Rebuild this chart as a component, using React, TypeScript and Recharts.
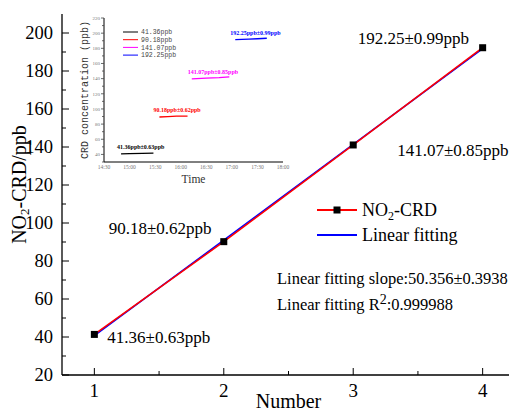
import React from 'react';
import { LineChart, Line, XAxis, YAxis, Legend, LabelList } from 'recharts';

// ---- main chart data ----
const numbers = [1, 2, 3, 4];
const measured = [41.36, 90.18, 141.07, 192.25];
const fitted = [40.68, 91.04, 141.39, 191.75];
const pointLabels = ['41.36±0.63ppb', '90.18±0.62ppb', '141.07±0.85ppb', '192.25±0.99ppb'];
const xTicksMain = [1, 1.5, 2, 2.5, 3, 3.5, 4];
const yTicksMain = [20, 30, 40, 50, 60, 70, 80, 90, 100, 110, 120, 130, 140, 150, 160, 170, 180, 190, 200];
const slopeText = 'Linear fitting slope:50.356±0.3938';
const r2Value = ':0.999988';

// ---- inset data ----
const insetSeriesNames = ['41.36ppb', '90.18ppb', '141.07ppb', '192.25ppb'];
const insetAnnotations = ['41.36ppb±0.63ppb', '90.18ppb±0.62ppb', '141.07ppb±0.85ppb', '192.25ppb±0.99ppb'];
const insetTimes1 = [890, 900, 915, 928];
const insetValues1 = [40.6, 41.0, 41.5, 41.7];
const insetTimes2 = [935, 945, 955, 968];
const insetValues2 = [89.4, 90.0, 90.4, 90.6];
const insetTimes3 = [973, 990, 1005, 1017];
const insetValues3 = [139.6, 140.6, 141.2, 142.3];
const insetTimes4 = [1024, 1040, 1050, 1061];
const insetValues4 = [191.5, 192.2, 192.6, 193.3];
const insetXTicks = [870, 900, 930, 960, 990, 1020, 1050, 1080];
const insetYTicks = [30, 40, 50, 60, 70, 80, 90, 100, 110, 120, 130, 140, 150, 160, 170, 180, 190, 200, 210, 220];

// ---- styles (not data) ----
const SERIF = '"Liberation Serif", "Times New Roman", serif';
const MONO = '"Liberation Mono", "DejaVu Sans Mono", monospace';
const insetColors = ['#000000', '#ff0000', '#ff00ff', '#0000ff'];
const labelOffsets = [
  { dx: 13, dy: 9 },
  { dx: -115, dy: -8 },
  { dx: 44, dy: 11 },
  { dx: -125, dy: -4 },
];
const insetAnnoOffsets = [
  { dx: -4, dy: -5 },
  { dx: -6, dy: -5 },
  { dx: -4, dy: -5 },
  { dx: -5, dy: -5 },
];

const mainData = numbers.map((n, i) => ({ x: n, y: measured[i], fit: fitted[i], label: pointLabels[i] }));
const insetData = [
  insetTimes1.map((t, i) => ({ t, v: insetValues1[i] })),
  insetTimes2.map((t, i) => ({ t, v: insetValues2[i] })),
  insetTimes3.map((t, i) => ({ t, v: insetValues3[i] })),
  insetTimes4.map((t, i) => ({ t, v: insetValues4[i] })),
];

const fmtTime = (m: number) => {
  const h = Math.floor(m / 60);
  const mm = m % 60;
  return `${h}:${mm < 10 ? '0' + mm : mm}`;
};

const MainYTick = (props: any) => {
  const { x, y, payload } = props;
  const v = payload.value;
  const major = v % 20 === 0;
  const ax = x + 9;
  return (
    <g>
      <line x1={ax} x2={ax + (major ? 7 : 4)} y1={y} y2={y} stroke="#000" strokeWidth={1} />
      {major && (
        <text x={x} y={y} dy="0.35em" textAnchor="end" fontFamily={SERIF} fontSize={18.5} fill="#000">
          {v}
        </text>
      )}
    </g>
  );
};

const MainXTick = (props: any) => {
  const { x, y, payload } = props;
  const v = payload.value;
  const major = Number.isInteger(v);
  const ay = y - 8;
  return (
    <g>
      <line x1={x} x2={x} y1={ay} y2={ay - (major ? 7 : 4)} stroke="#000" strokeWidth={1} />
      {major && (
        <text x={x} y={y} dy="0.75em" textAnchor="middle" fontFamily={SERIF} fontSize={19} fill="#000">
          {v}
        </text>
      )}
    </g>
  );
};

const InsetYTick = (props: any) => {
  const { x, y, payload } = props;
  const v = payload.value;
  const major = v % 20 === 0 && v >= 40;
  const ax = x + 3;
  return (
    <g>
      <line x1={ax} x2={ax - (major ? 3 : 2)} y1={y} y2={y} stroke="#444" strokeWidth={0.8} />
      {major && (
        <text x={x - 1} y={y} dy="0.35em" textAnchor="end" fontFamily={SERIF} fontSize={5} fill="#777">
          {v}
        </text>
      )}
    </g>
  );
};

const InsetXTick = (props: any) => {
  const { x, y, payload } = props;
  return (
    <text x={x} y={y} dy="0.75em" textAnchor="middle" fontFamily={SERIF} fontSize={5.5} fill="#777">
      {fmtTime(payload.value)}
    </text>
  );
};

const SquareDot = (props: any) => {
  const { cx, cy, index } = props;
  return <rect key={`sq-${index}`} x={cx - 3.5} y={cy - 3.5} width={7} height={7} fill="#000" />;
};

const MainLegend = () => (
  <svg width={170} height={50} style={{ overflow: 'visible' }}>
    <line x1={7} x2={47} y1={13} y2={13} stroke="#ff0000" strokeWidth={2} />
    <rect x={23.5} y={9.5} width={7} height={7} fill="#000" />
    <text x={52} y={19} fontFamily={SERIF} fontSize={18} fill="#000">
      NO<tspan fontSize={12} dy={4}>2</tspan>
      <tspan dy={-4}>-CRD</tspan>
    </text>
    <line x1={7} x2={47} y1={38} y2={38} stroke="#0000ff" strokeWidth={2} />
    <text x={52} y={44} fontFamily={SERIF} fontSize={18} fill="#000">Linear fitting</text>
  </svg>
);

const InsetLegend = () => (
  <svg width={70} height={34} style={{ overflow: 'visible' }}>
    {insetSeriesNames.map((n, i) => (
      <g key={n}>
        <line x1={1} x2={16} y1={3 + i * 7.7} y2={3 + i * 7.7} stroke={insetColors[i]} strokeWidth={1} />
        <text x={19} y={3 + i * 7.7} dy="0.35em" fontFamily={MONO} fontSize={6.5} fill="#444">{n}</text>
      </g>
    ))}
  </svg>
);

const MainPointLabel = (props: any) => {
  const { x, y, index, value } = props;
  const o = labelOffsets[index];
  return (
    <text x={x + o.dx} y={y + o.dy} fontFamily={SERIF} fontSize={17} fill="#000">
      {value}
    </text>
  );
};

const makeInsetLabel = (k: number) => (props: any) => {
  const { x, y, index } = props;
  if (index !== 0) return null;
  const o = insetAnnoOffsets[k];
  return (
    <text x={x + o.dx} y={y + o.dy} fontFamily={SERIF} fontWeight="bold" fontSize={6} fill={insetColors[k]}>
      {insetAnnotations[k]}
    </text>
  );
};

export default function App() {
  return (
    <div style={{ position: 'absolute', left: 0, top: 0, width: 509, height: 412, overflow: 'hidden', background: '#fff' }}>
      <div style={{ position: 'absolute', left: 0, top: 0 }}>
        <LineChart width={530} height={412} data={mainData} margin={{ top: 14, right: 15, bottom: 0, left: 0 }}>
          <XAxis
            dataKey="x"
            type="number"
            domain={[0.75, 4.25]}
            ticks={xTicksMain}
            height={37}
            tickSize={0}
            tickMargin={8}
            tickLine={false}
            tick={<MainXTick />}
            axisLine={{ stroke: '#000', strokeWidth: 1.3 }}
            interval={0}
            label={{ value: 'Number', position: 'insideBottom', offset: 4, fontFamily: SERIF, fontSize: 20, fill: '#000' }}
          />
          <XAxis
            xAxisId="top"
            orientation="top"
            dataKey="x"
            type="number"
            domain={[0.75, 4.25]}
            height={0}
            tick={false}
            tickLine={false}
            axisLine={{ stroke: '#000', strokeWidth: 1.3 }}
          />
          <YAxis
            type="number"
            domain={[20, 210]}
            ticks={yTicksMain}
            width={62}
            tickSize={0}
            tickMargin={9}
            tickLine={false}
            tick={<MainYTick />}
            interval={0}
            axisLine={{ stroke: '#000', strokeWidth: 1.3 }}
            label={{
              content: (p: any) => {
                const vb = p.viewBox;
                const cx = vb.x + 19;
                const cy = vb.y + vb.height / 2 - 10;
                return (
                  <text
                    x={cx}
                    y={cy}
                    transform={`rotate(-90 ${cx} ${cy})`}
                    textAnchor="middle"
                    dominantBaseline="central"
                    fontFamily={SERIF}
                    fontSize={20}
                    fill="#000"
                  >
                    NO<tspan fontSize={13} dy={5}>2</tspan>
                    <tspan dy={-5}>-CRD/ppb</tspan>
                  </text>
                );
              },
            }}
          />
          <Legend
            layout="horizontal"
            verticalAlign="middle"
            align="center"
            content={<MainLegend />}
            wrapperStyle={{ position: 'absolute', left: 310, top: 197, width: 170, height: 50 }}
          />
          <Line dataKey="fit" stroke="#0000ff" strokeWidth={1.6} dot={false} isAnimationActive={false} />
          <Line dataKey="y" stroke="#ff0000" strokeWidth={1.6} dot={<SquareDot />} isAnimationActive={false}>
            <LabelList dataKey="label" content={<MainPointLabel />} />
          </Line>
          <text x={277} y={284} fontFamily={SERIF} fontSize={16.5} fill="#000">{slopeText}</text>
          <text x={277} y={310} fontFamily={SERIF} fontSize={16.5} fill="#000">
            Linear fitting R<tspan fontSize={14} dy={-6}>2</tspan>
            <tspan dy={6}>{r2Value}</tspan>
          </text>
        </LineChart>
      </div>
      <div style={{ position: 'absolute', left: 0, top: 0 }}>
        <LineChart width={300} height={190} margin={{ top: 18, right: 17, bottom: 0, left: 0 }}>
          <XAxis
            dataKey="t"
            type="number"
            domain={[870, 1080]}
            ticks={insetXTicks}
            interval={0}
            height={28}
            tickSize={0}
            tickMargin={3}
            tickLine={false}
            tick={<InsetXTick />}
            axisLine={{ stroke: '#000', strokeWidth: 1 }}
            label={{ value: 'Time', position: 'insideBottom', offset: 7, fontFamily: SERIF, fontSize: 11.5, fill: '#333' }}
          />
          <YAxis
            dataKey="v"
            type="number"
            domain={[30, 220]}
            ticks={insetYTicks}
            interval={0}
            width={104}
            tickSize={0}
            tickMargin={3}
            tickLine={false}
            tick={<InsetYTick />}
            axisLine={{ stroke: '#000', strokeWidth: 1 }}
            label={{
              content: (p: any) => {
                const vb = p.viewBox;
                const cx = vb.x + vb.width - 19;
                const cy = vb.y + vb.height / 2;
                return (
                  <text
                    x={cx}
                    y={cy}
                    transform={`rotate(-90 ${cx} ${cy})`}
                    textAnchor="middle"
                    dominantBaseline="central"
                    fontFamily={MONO}
                    fontSize={10}
                    fill="#333"
                  >
                    CRD concentration (ppb)
                  </text>
                );
              },
            }}
          />
          <Legend
            layout="horizontal"
            verticalAlign="middle"
            align="center"
            content={<InsetLegend />}
            wrapperStyle={{ position: 'absolute', left: 122, top: 29, width: 70, height: 34 }}
          />
          {insetData.map((d, k) => (
            <Line
              key={k}
              data={d}
              dataKey="v"
              stroke={insetColors[k]}
              strokeWidth={1.3}
              dot={false}
              isAnimationActive={false}
            >
              <LabelList dataKey="v" content={makeInsetLabel(k)} />
            </Line>
          ))}
        </LineChart>
      </div>
    </div>
  );
}
